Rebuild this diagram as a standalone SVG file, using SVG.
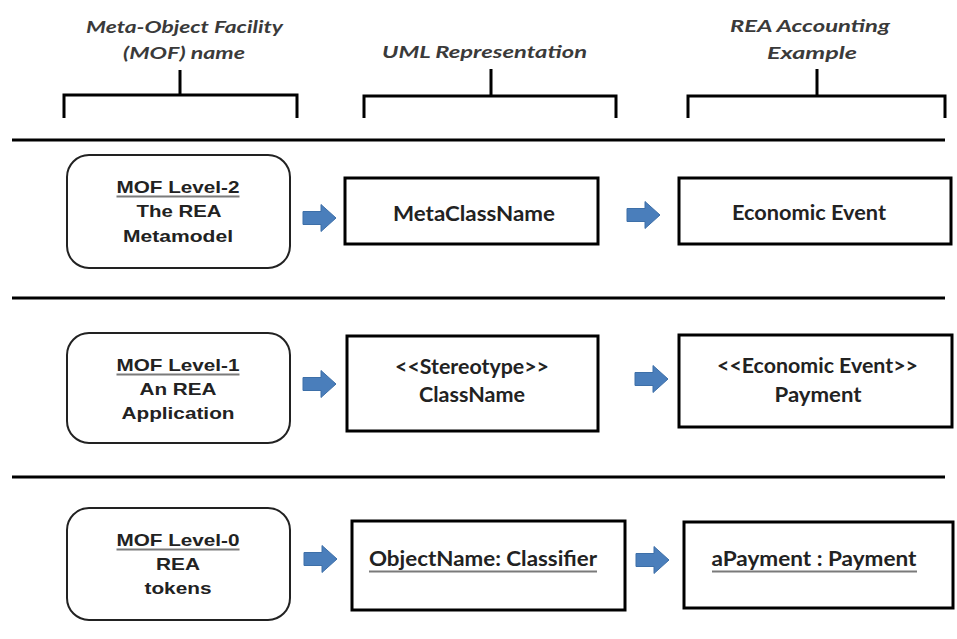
<svg xmlns="http://www.w3.org/2000/svg" width="957" height="639" viewBox="0 0 957 639">
<style>
.hdr{font-family:Lato,"Liberation Sans",sans-serif;font-weight:bold;font-style:italic;font-size:17.5px;fill:#3a3a3a;text-anchor:middle}
.brk{fill:none;stroke:#000;stroke-width:3}
.sep{stroke:#000;stroke-width:3}
.rbox{fill:#fff;stroke:#222;stroke-width:2}
.box{fill:#fff;stroke:#000;stroke-width:3}
.at{font-family:"Liberation Sans",Arial,sans-serif;font-weight:bold;font-size:16.5px;fill:#222;text-anchor:middle}
.ct{font-family:Lato,"Liberation Sans",sans-serif;font-weight:bold;font-size:20px;fill:#222;text-anchor:middle}
.ul{stroke:#7a7a7a;stroke-width:2}
.arr{fill:#4a7ebb;stroke:#3d6fa8;stroke-width:1}
</style>
<defs>
<path id="blk" d="M0,-6.5 L18,-6.5 L18,-13.5 L33,0 L18,13.5 L18,6.5 L0,6.5 Z"/>
</defs>

<g id="headers">
<g id="hdr-mof">
<text class="hdr" x="184.5" y="33" textLength="197" lengthAdjust="spacingAndGlyphs">Meta-Object Facility</text>
<text class="hdr" x="184" y="59" textLength="122" lengthAdjust="spacingAndGlyphs">(MOF) name</text>
<path class="brk" d="M180,70 V95 M64,118 V95 H297 V118"/>
</g>
<g id="hdr-uml">
<text class="hdr" x="484.5" y="58" textLength="205" lengthAdjust="spacingAndGlyphs">UML Representation</text>
<path class="brk" d="M491,69 V96 M364,118 V96 H616 V118"/>
</g>
<g id="hdr-rea">
<text class="hdr" x="810" y="32" textLength="160" lengthAdjust="spacingAndGlyphs">REA Accounting</text>
<text class="hdr" x="812" y="59" textLength="90" lengthAdjust="spacingAndGlyphs">Example</text>
<path class="brk" d="M817,69 V96 M688,118 V96 H945 V118"/>
</g>
</g>

<g id="separators">
<line class="sep" x1="12" y1="140" x2="945" y2="140"/>
<line class="sep" x1="12" y1="298" x2="945" y2="298"/>
<line class="sep" x1="12" y1="477" x2="945" y2="477"/>
</g>

<g id="level2">
<rect class="rbox" x="67" y="155" width="223" height="113" rx="22"/>
<text class="at" x="178" y="192.5" textLength="123" lengthAdjust="spacingAndGlyphs">MOF Level-2</text>
<line class="ul" x1="116.5" y1="196.5" x2="239.5" y2="196.5"/>
<text class="at" x="179" y="216.5" textLength="85" lengthAdjust="spacingAndGlyphs">The REA</text>
<text class="at" x="178" y="241.5" textLength="110" lengthAdjust="spacingAndGlyphs">Metamodel</text>
</g>
<g id="metaclassname">
<rect class="box" x="345" y="178" width="253" height="66"/>
<text class="ct" x="474" y="220.5" textLength="162" lengthAdjust="spacingAndGlyphs">MetaClassName</text>
</g>
<g id="economic-event">
<rect class="box" x="679" y="178" width="272" height="66"/>
<text class="ct" x="809" y="219.5" textLength="154" lengthAdjust="spacingAndGlyphs">Economic Event</text>
</g>

<g id="level1">
<rect class="rbox" x="67" y="333" width="223" height="110" rx="22"/>
<text class="at" x="178" y="370.5" textLength="123" lengthAdjust="spacingAndGlyphs">MOF Level-1</text>
<line class="ul" x1="116.5" y1="374.5" x2="239.5" y2="374.5"/>
<text class="at" x="178" y="394.5" textLength="77" lengthAdjust="spacingAndGlyphs">An REA</text>
<text class="at" x="178" y="419" textLength="113" lengthAdjust="spacingAndGlyphs">Application</text>
</g>
<g id="stereotype-classname">
<rect class="box" x="347" y="336" width="251" height="95"/>
<text class="ct" x="472" y="374" textLength="154" lengthAdjust="spacingAndGlyphs">&lt;&lt;Stereotype&gt;&gt;</text>
<text class="ct" x="472" y="402" textLength="106" lengthAdjust="spacingAndGlyphs">ClassName</text>
</g>
<g id="payment-class">
<rect class="box" x="679" y="335" width="273" height="92"/>
<text class="ct" x="817.5" y="373" textLength="201" lengthAdjust="spacingAndGlyphs">&lt;&lt;Economic Event&gt;&gt;</text>
<text class="ct" x="818" y="402" textLength="87" lengthAdjust="spacingAndGlyphs">Payment</text>
</g>

<g id="level0">
<rect class="rbox" x="67" y="508" width="223" height="112" rx="22"/>
<text class="at" x="178" y="545.5" textLength="123" lengthAdjust="spacingAndGlyphs">MOF Level-0</text>
<line class="ul" x1="116.5" y1="549.5" x2="239.5" y2="549.5"/>
<text class="at" x="178" y="569.5" textLength="44" lengthAdjust="spacingAndGlyphs">REA</text>
<text class="at" x="178" y="594" textLength="67" lengthAdjust="spacingAndGlyphs">tokens</text>
</g>
<g id="objectname-classifier">
<rect class="box" x="352" y="521" width="273" height="89"/>
<text class="ct" x="483" y="566" textLength="228" lengthAdjust="spacingAndGlyphs">ObjectName: Classifier</text>
<line class="ul" x1="369" y1="571.5" x2="597" y2="571.5"/>
</g>
<g id="apayment">
<rect class="box" x="684" y="522" width="269" height="86"/>
<text class="ct" x="814" y="566" textLength="205" lengthAdjust="spacingAndGlyphs">aPayment : Payment</text>
<line class="ul" x1="712" y1="571.5" x2="917" y2="571.5"/>
</g>

<g id="connectors">
<use href="#blk" class="arr" transform="translate(303,218)"/>
<use href="#blk" class="arr" transform="translate(627,215)"/>
<use href="#blk" class="arr" transform="translate(303,384)"/>
<use href="#blk" class="arr" transform="translate(635,379)"/>
<use href="#blk" class="arr" transform="translate(304,559)"/>
<use href="#blk" class="arr" transform="translate(636,560)"/>
</g>
</svg>
